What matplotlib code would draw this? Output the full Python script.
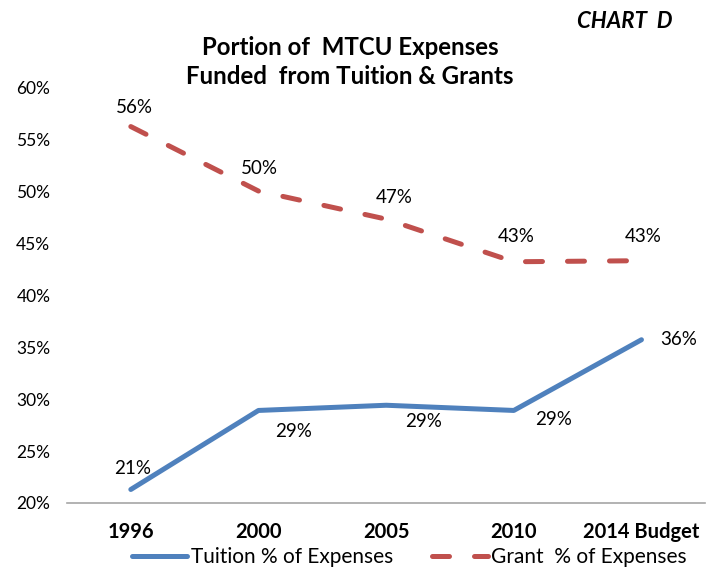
import matplotlib
matplotlib.use("Agg")
import matplotlib.pyplot as plt
from matplotlib.ticker import FuncFormatter

plt.rcParams['font.family'] = ['Lato', 'DejaVu Sans']

years = ['1996', '2000', '2005', '2010', '2014 Budget']
tuition = [21.3, 28.9, 29.4, 28.9, 35.7]
grant = [56.2, 50.0, 47.3, 43.2, 43.3]
tuition_labels = ['21%', '29%', '29%', '29%', '36%']
grant_labels = ['56%', '50%', '47%', '43%', '43%']

blue = '#4F81BD'
red = '#C0504D'

fig = plt.figure(figsize=(7.18, 5.69), dpi=100)
ax = fig.add_axes([0.0933, 0.116, 0.889, 0.731])

x = list(range(len(years)))
ax.plot(x, tuition, color=blue, lw=3.6, solid_capstyle='round',
        solid_joinstyle='round', label='Tuition % of Expenses')
ax.plot(x, grant, color=red, lw=3.6, dashes=(3.4, 5.0), dash_capstyle='round',
        label='Grant  % of Expenses')

# label offsets in pixels, as placed in the original
grant_off = [(4, 19), (1, 23), (8, 22), (2, 25), (2, 24)]
tuition_off = [(2, 21), (35, -21), (37, -16), (40, -9), (37, 0)]
for i, (v, t) in enumerate(zip(grant, grant_labels)):
    ax.annotate(t, (i, v), xytext=grant_off[i], textcoords='offset pixels',
                ha='center', va='center', fontsize=13.5)
for i, (v, t) in enumerate(zip(tuition, tuition_labels)):
    ax.annotate(t, (i, v), xytext=tuition_off[i], textcoords='offset pixels',
                ha='center', va='center', fontsize=13.5)

ax.set_xlim(-0.5, len(years) - 0.5)
ax.set_ylim(20, 60)
ax.set_yticks(range(20, 61, 5))
ax.yaxis.set_major_formatter(FuncFormatter(lambda v, p: f'{v:.0f}%'))
ax.set_xticks(x)
ax.set_xticklabels(years, fontweight='bold', fontsize=14.5)
ax.tick_params(axis='both', length=0)
ax.tick_params(axis='y', pad=12, labelsize=12.5)
ax.tick_params(axis='x', pad=14)
for s in ['top', 'right', 'left']:
    ax.spines[s].set_visible(False)
ax.spines['bottom'].set_color('#A6A6A6')
ax.spines['bottom'].set_linewidth(1.2)

fig.text(0.4875, 0.891, 'Portion of  MTCU Expenses\nFunded  from Tuition & Grants',
         ha='center', va='center', fontsize=17.3, fontweight='bold', linespacing=1.3)
fig.text(0.937, 0.963, 'CHART  D', ha='right', va='center', fontsize=16,
         fontweight='bold', fontstyle='italic')

fig.legend(loc='center', bbox_to_anchor=(0.57, 0.021), ncol=2, frameon=False,
           fontsize=15, handlelength=2.65, handletextpad=0.15, columnspacing=1.9,
           borderaxespad=0, borderpad=0)

fig.savefig('out.png', dpi=100)
